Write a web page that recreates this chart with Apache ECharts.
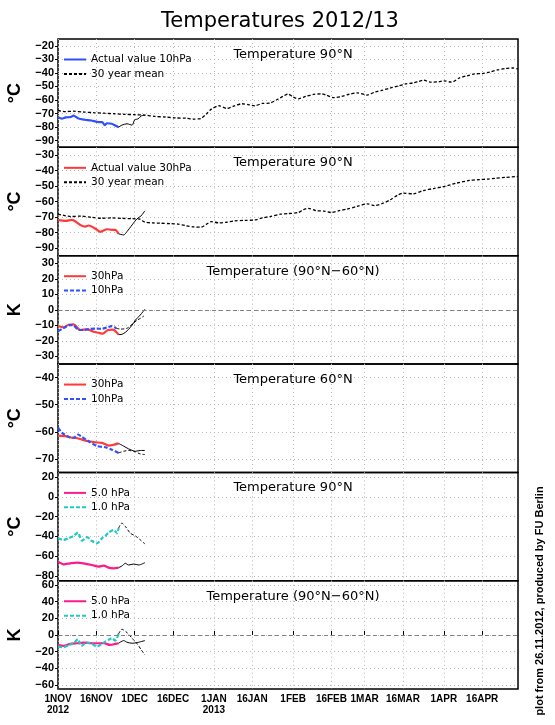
<!DOCTYPE html>
<html>
<head>
<meta charset="utf-8">
<script src="https://cdn.jsdelivr.net/npm/echarts@6/dist/echarts.min.js"></script>
<style>
  html, body { margin: 0; padding: 0; background: #fff; }
  #main { width: 555px; height: 725px; }
</style>
</head>
<body>
<div id="main"></div>
<script type="text/javascript">
// x axis: days since 1 Nov 2012
var xTickDays = [0, 15, 30, 45, 61, 76, 92, 107, 120, 135, 151, 166];
var xTickLabels = ['1NOV\n2012', '16NOV', '1DEC', '16DEC', '1JAN\n2013', '16JAN',
                   '1FEB', '16FEB', '1MAR', '16MAR', '1APR', '16APR'];

// y ticks of the six panels
var yTicks1 = [-90, -80, -70, -60, -50, -40, -30, -20];
var yTicks2 = [-90, -80, -70, -60, -50, -40, -30];
var yTicks3 = [-30, -20, -10, 0, 10, 20, 30];
var yTicks4 = [-70, -60, -50, -40];
var yTicks5 = [-80, -60, -40, -20, 0, 20];
var yTicks6 = [-60, -40, -20, 0, 20, 40, 60];
var yRanges = [[-95, -15], [-95, -25], [-35, 35], [-75, -35], [-85, 25], [-65, 65]];
var yUnits = ['°C', '°C', 'K', '°C', '°C', 'K'];
var panelTitles = ['Temperature 90°N', 'Temperature 90°N', 'Temperature (90°N\u221260°N)',
                   'Temperature 60°N', 'Temperature 90°N', 'Temperature (90°N\u221260°N)'];

// panel 1: 10hPa 90N
var act10 = [[0,-72.8],[1.5,-73.8],[3,-72.9],[5,-72.6],[6,-71.6],[8,-73.7],[10.5,-74.6],[13,-75.2],
             [16,-76.4],[17.3,-76.4],[18.3,-78.6],[19.2,-77.2],[21,-77.6],[22.4,-78.9],[23.7,-80.1]];
var fc10 = [[23.7,-80.1],[25,-78.6],[27,-77.6],[29,-78.6],[30,-74.7],[31.3,-74],[32.6,-71.8],[34,-71.3]];
var mean10 = [[0,-67.8],[3,-68.6],[6,-68.3],[10,-68.9],[14,-69.4],[18,-69.8],[22,-70.2],[26,-70.6],
              [30,-70.9],[34,-71.2],[38,-72.2],[42,-72.6],[46,-73.3],[50,-73.4],[53,-74.1],[56,-73.6],
              [58,-70.5],[60,-66.8],[63,-64.3],[66,-66.3],[69,-64.4],[72,-62.8],[75,-63.6],[77,-64.3],
              [80,-62.6],[83,-62.3],[86,-59.5],[88,-57.4],[90,-55.6],[92,-57.8],[94,-59.2],[97,-57.3],
              [100,-55.9],[103,-55.5],[105,-56.5],[108,-58.3],[111,-57.4],[114,-55.8],[117,-54.8],
              [121,-56.4],[124,-54.2],[127,-52.8],[130,-51.2],[133,-49.8],[136,-48.2],[139,-47.4],
              [141,-46.4],[143,-45.4],[146,-46.9],[149,-46.6],[151,-45.9],[154,-46.9],[157,-43.8],
              [160,-42.2],[163,-40.8],[166,-40.5],[169,-39.4],[172,-37.8],[175,-36.8],[178,-36.4],[180,-37.1]];

// panel 2: 30hPa 90N
var act30 = [[0,-71.9],[3,-72.5],[5.5,-71.9],[8.7,-75.1],[10.7,-76.2],[12,-75.5],[15.3,-78.3],[16.6,-79.6],
             [19.2,-77.9],[21.1,-78.3],[22.4,-78.3],[23.7,-80.9]];
var fc30 = [[23.7,-80.9],[25.7,-81.6],[27,-79.4],[29,-75.1],[30.9,-71.2],[32.5,-69.3],[34,-66]];
var mean30 = [[0,-68.2],[3,-69.2],[5,-69.7],[9,-69.4],[13,-70.2],[17,-70.8],[21,-70.6],[25,-70.9],
              [29,-71.1],[32,-71.4],[34,-73.3],[37,-73.8],[40,-74],[44,-74.3],[47,-74.6],[50,-75.6],
              [53,-76.4],[56,-76.6],[58,-74.8],[60,-73],[63,-73.8],[66,-73.4],[69,-72.5],[73,-72.2],
              [77,-71.9],[80,-70.6],[83,-69.7],[87,-68.2],[90,-67.8],[94,-67.1],[96,-65.3],[98,-64.4],
              [101,-65.9],[104,-66.2],[107,-67.1],[110,-65.9],[113,-64.9],[117,-63.2],[121,-61.5],
              [124,-62.6],[127,-61.2],[130,-58.9],[133,-55.8],[135,-54.6],[139,-55],[143,-52.9],
              [147,-51.6],[151,-50.3],[156,-48.1],[161,-46.4],[165,-45.8],[168,-45.5],[171,-45],
              [175,-44.4],[180,-43.8]];

// panel 3: 90N-60N difference
var diff30 = [[0,-10.4],[2.2,-11.3],[4.2,-9.6],[6.1,-9.4],[8.7,-13],[11.4,-12.6],[13.9,-14.1],[15.9,-14.8],
              [17.5,-15.4],[19.5,-13],[21.5,-12.8],[23.7,-16]];
var fcDiff30 = [[23.7,-16],[25,-15.8],[26.4,-14.5],[27.6,-12.6],[29,-9.8],[30.3,-6.6],[32.2,-3.3],[34,0.4]];
var diff10 = [[0,-13.8],[2,-11.9],[4.8,-9.8],[6,-10],[8.1,-12.8],[10,-13],[12,-12.4],[15.3,-12.1],
              [17,-12.3],[19.2,-11.3],[21.1,-10.5],[22.8,-11.9]];
var fcDiff10 = [[22.8,-11.9],[24.5,-12.4],[27,-11.9],[29,-9.2],[31,-6.6],[32.2,-5.5],[33.6,-4]];

// panel 4: 60N
var t60n30 = [[0,-61.4],[2.9,-61.6],[5.5,-62.2],[7,-62.3],[9.4,-62.9],[12,-63.5],[14.6,-63.9],[17.2,-64.1],
              [19.8,-65.1],[21.8,-64.8],[23.7,-64.3]];
var fc60n30 = [[23.7,-64.3],[25.7,-65.3],[27.6,-66.3],[30.3,-67.2],[32.2,-66.9],[34,-66.9]];
var t60n10 = [[0,-58.5],[1.6,-60.4],[4.2,-61.9],[6.1,-62.2],[7.8,-61],[9.4,-61.9],[12,-63.5],[15.3,-65.3],
              [18.5,-65.7],[21.1,-66.6],[23.7,-67.8]];
var fc60n10 = [[23.7,-67.8],[25.7,-67.2],[27.6,-66.9],[30.3,-67.4],[32.2,-68.2],[34,-68.4]];

// panel 5: 5.0 / 1.0 hPa 90N
var t5 = [[0,-65.6],[2.2,-68.3],[4.8,-67.3],[7.4,-66.6],[10,-67.3],[13.3,-69],[15.9,-70.7],[17.9,-69.7],
          [19.8,-71.7],[21.8,-72.4],[23.7,-71.7]];
var fc5 = [[23.7,-71.7],[25,-70],[26.4,-67.3],[27.6,-69],[29.6,-68],[31.6,-69],[34,-66.6]];
var t1 = [[0,-41.8],[2.2,-43.5],[4.2,-41.8],[6.1,-39.5],[7.8,-36.1],[9.4,-44.2],[11.4,-40.8],[13,-44.2],
          [15.3,-46.9],[17.2,-41.8],[18.5,-39.5],[19.8,-36.1],[21.8,-33.4],[23.1,-36.8],[23.7,-31.6]];
var fc1 = [[23.7,-31.6],[25,-26.5],[26.4,-30],[28.3,-36.7],[30.3,-39.5],[32.2,-43.5],[34,-47.6]];

// panel 6: 5.0 / 1.0 hPa 90N-60N
var k5 = [[0,-12],[2.2,-13.2],[4.8,-10.8],[7.4,-10],[10,-9.2],[13.3,-10],[15.9,-10],[18,-10],
          [20.4,-12],[22.4,-10.8],[23.7,-10]];
var fcK5 = [[23.7,-10],[25.7,-6.8],[27,-8.8],[29,-10],[31,-9.2],[34,-6.8]];
var k1 = [[0,-14],[2.2,-14.8],[4.2,-12],[6.1,-10],[7.8,-5.2],[9.1,-13.2],[11.4,-9.2],[13.3,-10.8],
          [15.3,-14],[17.9,-9.2],[19.8,-6],[21.1,-4],[22.4,-6.8],[23.7,1.2]];
var fcK1 = [[23.7,1.2],[25,6.8],[27,2.8],[29,-4],[31,-10.8],[32.6,-18],[34,-24]];

var zeroRef = 0;

var myChart = echarts.init(document.getElementById('main'));

var BLUE = '#2f50ff', RED = '#ff3a3a', PINK = '#ff1a8c', CYAN = '#22c8c8';
var gridTop = 39, panelH = 108.35;
var yTicks = [yTicks1, yTicks2, yTicks3, yTicks4, yTicks5, yTicks6];

var grids = [], xAxes = [], yAxes = [], titles = [], legends = [];
titles.push({
    text: 'Temperatures 2012/13', left: 275, top: 6, textAlign: 'center',
    textStyle: {fontFamily: 'DejaVu Sans', fontSize: 21, fontWeight: 'normal', color: '#000'}
});
for (var i = 0; i < 6; i++) {
    var panelTop = gridTop + i * panelH;
    grids.push({left: 58, width: 460, top: panelTop, height: panelH, show: true,
                borderColor: '#000', borderWidth: 1.5, outerBoundsMode: 'none'});
    xAxes.push({
        type: 'value', gridIndex: i, min: 0, max: 180,
        axisLine: {show: false},
        axisTick: {show: i === 5, inside: true, length: 4, customValues: xTickDays,
                   lineStyle: {color: '#000'}},
        axisLabel: {show: i === 5, customValues: xTickDays, margin: 5,
                    fontFamily: 'Liberation Sans', fontWeight: 'bold', fontSize: 10,
                    lineHeight: 11, color: '#000',
                    formatter: function (v) { return xTickLabels[xTickDays.indexOf(v)]; }},
        splitLine: {show: true, lineStyle: {color: '#b8b8b8', type: [1, 3], width: 1}}
    });
    yAxes.push({
        type: 'value', gridIndex: i, min: yRanges[i][0], max: yRanges[i][1],
        axisLine: {show: false},
        axisTick: {show: true, length: 3, customValues: yTicks[i], lineStyle: {color: '#000'}},
        axisLabel: {customValues: yTicks[i], margin: 4,
                    fontFamily: 'Liberation Sans', fontWeight: 'bold', fontSize: 11, color: '#000',
                    formatter: function (v) { return String(v).replace('-', '\u2212'); }},
        splitLine: {show: true, lineStyle: {color: '#b8b8b8', type: [1, 3], width: 1}},
        name: yUnits[i], nameLocation: 'middle', nameRotate: 90, nameGap: 32,
        nameTextStyle: {fontFamily: 'Liberation Sans', fontWeight: 'bold', fontSize: 18, color: '#000'}
    });
    titles.push({
        text: panelTitles[i], left: 288, top: panelTop + 4, textAlign: 'center',
        textStyle: {fontFamily: 'DejaVu Sans', fontSize: 13, fontWeight: 'normal', color: '#000'}
    });
}

var legendNames = [
    ['Actual value 10hPa', '30 year mean'],
    ['Actual value 30hPa', '30 year mean'],
    ['30hPa', '10hPa'],
    ['30hPa', '10hPa'],
    ['5.0 hPa', '1.0 hPa'],
    ['5.0 hPa', '1.0 hPa']
];
for (var j = 0; j < 6; j++) {
    legends.push({
        data: legendNames[j], orient: 'vertical', left: 63, top: gridTop + j * panelH + 15,
        itemWidth: 22, itemHeight: 10, itemGap: 3.4, padding: 0, selectedMode: false,
        itemStyle: {opacity: 0},
        textStyle: {fontFamily: 'DejaVu Sans', fontSize: 10.5, color: '#000'}
    });
}

function line(name, idx, data, color, width, dash, z) {
    return {
        name: name, type: 'line', xAxisIndex: idx, yAxisIndex: idx, data: data,
        symbol: 'none', smooth: 0.25, silent: true, z: z || 3,
        lineStyle: {color: color, width: width, type: dash || 'solid'},
        itemStyle: {color: color}
    };
}
function zeroLine(s) {
    s.markLine = {silent: true, symbol: 'none', label: {show: false},
                  lineStyle: {color: '#808080', type: [4, 3], width: 1},
                  data: [{yAxis: zeroRef}]};
    return s;
}

var series = [
    line('30 year mean', 0, mean10, '#000', 1.3, [3, 2], 2),
    line('Actual value 10hPa', 0, act10, BLUE, 2.2),
    line('fc10', 0, fc10, '#000', 1),

    line('30 year mean', 1, mean30, '#000', 1.3, [3, 2], 2),
    line('Actual value 30hPa', 1, act30, RED, 2.2),
    line('fc30', 1, fc30, '#000', 1),

    zeroLine(line('30hPa', 2, diff30, RED, 2.2)),
    line('10hPa', 2, diff10, BLUE, 2.2, [4, 2]),
    line('fcd30', 2, fcDiff30, '#000', 1),
    line('fcd10', 2, fcDiff10, '#000', 1, [3, 2]),

    line('30hPa', 3, t60n30, RED, 2.2),
    line('10hPa', 3, t60n10, BLUE, 2.2, [4, 2]),
    line('fc60a', 3, fc60n30, '#000', 1),
    line('fc60b', 3, fc60n10, '#000', 1, [3, 2]),

    line('5.0 hPa', 4, t5, PINK, 2.2),
    line('1.0 hPa', 4, t1, CYAN, 2.2, [4, 2]),
    line('fc5', 4, fc5, '#000', 1),
    line('fc1', 4, fc1, '#000', 1, [3, 2]),

    zeroLine(line('5.0 hPa', 5, k5, PINK, 2.2)),
    line('1.0 hPa', 5, k1, CYAN, 2.2, [4, 2]),
    line('fck5', 5, fcK5, '#000', 1),
    line('fck1', 5, fcK1, '#000', 1, [3, 2])
];

var option = {
    animation: false,
    backgroundColor: '#fff',
    title: titles,
    legend: legends,
    grid: grids,
    xAxis: xAxes,
    yAxis: yAxes,
    series: series,
    graphic: [{
        type: 'text', x: 540, y: 601, rotation: Math.PI / 2,
        style: {text: 'plot from 26.11.2012, produced by FU Berlin',
                fontFamily: 'Liberation Sans', fontWeight: 'bold', fontSize: 11, fill: '#000',
                align: 'center', verticalAlign: 'middle',
                textAlign: 'center', textVerticalAlign: 'middle'}
    }]
};
myChart.setOption(option);
</script>
</body>
</html>
